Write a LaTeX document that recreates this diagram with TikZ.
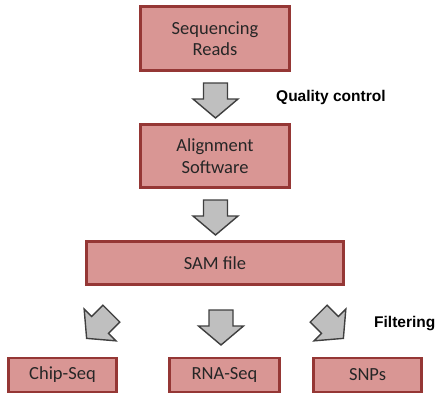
\documentclass[tikz,border=0pt]{standalone}
\usepackage{fontspec}
\setmainfont{Carlito}
\newfontfamily\labelfont{Liberation Sans}
\definecolor{boxfill}{HTML}{D99694}
\definecolor{boxline}{HTML}{953735}
\definecolor{arrfill}{HTML}{BFBFBF}
\definecolor{arrline}{HTML}{3F3F3F}
\definecolor{txt}{HTML}{262626}
\tikzset{
  procbox/.style={draw=boxline, fill=boxfill, line width=2.4pt, text=txt,
    font=\fontsize{18.5}{21.5}\selectfont, align=center, inner sep=0pt},
  sidelabel/.style={font=\labelfont\bfseries\fontsize{15.5}{18}\selectfont, anchor=west, inner sep=0pt},
  pics/blockarrow/.style={code={
    \draw[draw=arrline, fill=arrfill, line width=1.4pt, line join=miter]
      (-12pt,17.5pt) -- (12pt,17.5pt) -- (12pt,1.5pt) -- (22.5pt,1.5pt) --
      (0pt,-17.5pt) -- (-22.5pt,1.5pt) -- (-12pt,1.5pt) -- cycle;
  }}
}
\begin{document}
\begin{tikzpicture}[x=1pt, y=-1pt]
\useasboundingbox (0,0) rectangle (439,396);
\node[procbox, minimum width=149pt, minimum height=64pt] (seq) at (215,38.5) {Sequencing\\Reads};
\node[procbox, minimum width=149pt, minimum height=63pt] (aln) at (215,156) {Alignment\\Software};
\node[procbox, minimum width=257pt, minimum height=43pt] (sam) at (215,263) {SAM file};
\node[procbox, minimum width=108pt, minimum height=34pt] (chip) at (62.5,375) {Chip-Seq};
\node[procbox, minimum width=110pt, minimum height=34pt] (rna) at (224.5,375) {RNA-Seq};
\node[procbox, minimum width=108pt, minimum height=34pt] (snp) at (367.5,375) {SNPs};
\pic at (215.5,100.5) {blockarrow};
\pic at (215.5,217.5) {blockarrow};
\pic at (221,327.5) {blockarrow};
\pic[rotate=-45] at (99,326) {blockarrow};
\pic[rotate=45] at (331,326) {blockarrow};
\node[sidelabel] (qc) at (276,97) {Quality control};
\node[sidelabel] (filt) at (374,324) {Filtering};
\end{tikzpicture}
\end{document}
